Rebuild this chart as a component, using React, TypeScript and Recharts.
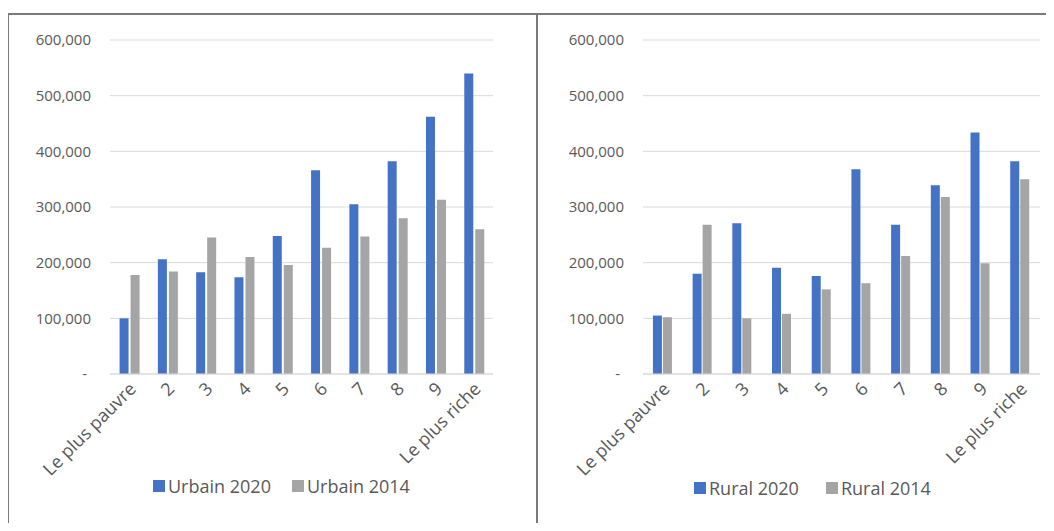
import React from 'react';
import { BarChart, Bar, XAxis, YAxis, CartesianGrid, Legend } from 'recharts';

const categories = ['Le plus pauvre', '2', '3', '4', '5', '6', '7', '8', '9', 'Le plus riche'];
const urbain2020 = [100000, 206000, 183000, 174000, 248000, 366000, 305000, 382000, 462000, 540000];
const urbain2014 = [178000, 184000, 245000, 210000, 196000, 227000, 247000, 280000, 313000, 260000];
const rural2020 = [105000, 180000, 271000, 191000, 176000, 368000, 268000, 339000, 434000, 382000];
const rural2014 = [102000, 268000, 100000, 108000, 152000, 163000, 212000, 318000, 199000, 350000];
const yTicks = [0, 100000, 200000, 300000, 400000, 500000, 600000];

const urbainData = categories.map((c, i) => ({ name: c, a: urbain2020[i], b: urbain2014[i] }));
const ruralData = categories.map((c, i) => ({ name: c, a: rural2020[i], b: rural2014[i] }));

const BLUE = '#4472C4';
const GRAY = '#A5A5A5';
const TEXT = '#595959';
const FONT = '"Open Sans", sans-serif';

const fmt = (v: number) => (v === 0 ? '-\u00a0' : v.toLocaleString('en-US'));

const XTick = (props: any) => {
  const { x, y, payload } = props;
  const tx = x + 8;
  const ty = y;
  return (
    <text
      x={tx}
      y={ty}
      textAnchor="end"
      fill={TEXT}
      fontSize={18}
      fontFamily={FONT}
      transform={`rotate(-45, ${tx}, ${ty})`}
    >
      {payload.value}
    </text>
  );
};

const makeLegend = (gap: number) => (props: any) => {
  const payload = [...(props.payload || [])].sort((p: any, q: any) =>
    String(p.dataKey).localeCompare(String(q.dataKey))
  );
  return (
    <div style={{ display: 'flex', alignItems: 'center', gap, fontFamily: FONT, fontSize: 18, lineHeight: '24px', color: TEXT }}>
      {payload.map((p: any) => (
        <div key={p.value} style={{ display: 'flex', alignItems: 'center' }}>
          <span style={{ display: 'inline-block', width: 12, height: 12, background: p.color, marginRight: 3 }} />
          <span>{p.value}</span>
        </div>
      ))}
    </div>
  );
};

type PanelProps = {
  data: any[];
  left: number;
  width: number;
  marginLeft: number;
  marginRight: number;
  barGap: number;
  nameA: string;
  nameB: string;
  legendLeft: number;
  legendTop: number;
  legendGap: number;
};

const Panel = (p: PanelProps) => (
  <div style={{ position: 'absolute', left: p.left, top: 15 }}>
    <BarChart
      width={p.width}
      height={516}
      data={p.data}
      margin={{ top: 25, right: p.marginRight, bottom: 127, left: p.marginLeft }}
      barCategoryGap="25%"
      barGap={p.barGap}
    >
      <CartesianGrid vertical={false} stroke="#D9D9D9" strokeWidth={1} />
      <XAxis
        dataKey="name"
        interval={0}
        height={30}
        tickLine={false}
        tickSize={0}
        tickMargin={16}
        axisLine={{ stroke: '#D9D9D9' }}
        tick={<XTick />}
      />
      <YAxis
        width={60}
        domain={[0, 600000]}
        ticks={yTicks}
        tickFormatter={fmt}
        axisLine={false}
        tickLine={false}
        tickSize={0}
        tickMargin={19}
        tick={{ fill: TEXT, fontSize: 15, fontFamily: FONT }}
        interval={0}
      />
      <Legend
        layout="horizontal"
        align="center"
        verticalAlign="middle"
        wrapperStyle={{ left: p.legendLeft, top: p.legendTop, width: 400 }}
        content={makeLegend(p.legendGap)}
      />
      <Bar dataKey="a" name={p.nameA} fill={BLUE} isAnimationActive={false} />
      <Bar dataKey="b" name={p.nameB} fill={GRAY} isAnimationActive={false} />
    </BarChart>
  </div>
);

export default function App() {
  return (
    <div style={{ position: 'relative', width: 1054, height: 531, margin: -8, overflow: 'hidden', background: '#fff' }}>
      <div style={{ position: 'absolute', left: 7, top: 13, width: 1047, height: 2, background: '#7a7a7a' }} />
      <div style={{ position: 'absolute', left: 7, top: 13, width: 2, height: 518, background: '#7a7a7a' }} />
      <div style={{ position: 'absolute', left: 536, top: 13, width: 2, height: 518, background: '#7a7a7a' }} />
      <Panel
        data={urbainData}
        left={9}
        width={527}
        marginLeft={41}
        marginRight={43}
        barGap={2}
        nameA="Urbain 2020"
        nameB="Urbain 2014"
        legendLeft={144}
        legendTop={459}
        legendGap={21}
      />
      <Panel
        data={ruralData}
        left={538}
        width={516}
        marginLeft={45}
        marginRight={14}
        barGap={1}
        nameA="Rural 2020"
        nameB="Rural 2014"
        legendLeft={156}
        legendTop={461}
        legendGap={27}
      />
    </div>
  );
}
